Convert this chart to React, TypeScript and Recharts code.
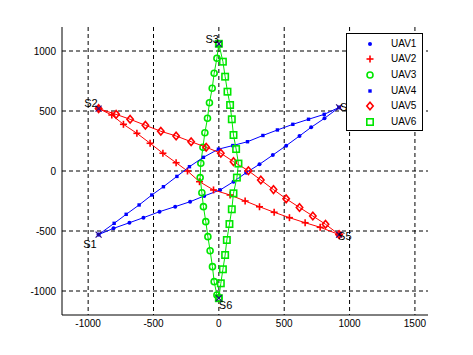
import React from 'react';
import { ScatterChart, Scatter, XAxis, YAxis, CartesianGrid } from 'recharts';

const xTicks = [-1000, -500, 0, 500, 1000, 1500];
const yTicks = [-1000, -500, 0, 500, 1000];

const uav1 = [
  { x: -920, y: -530 }, { x: -806, y: -478 }, { x: -684, y: -431 }, { x: -577, y: -389 },
  { x: -454, y: -339 }, { x: -334, y: -297 }, { x: -220, y: -256 }, { x: -112, y: -208 },
  { x: 10, y: -158 }, { x: 112, y: -89 }, { x: 209, y: -14 }, { x: 311, y: 56 },
  { x: 413, y: 133 }, { x: 515, y: 211 }, { x: 617, y: 292 }, { x: 706, y: 364 },
  { x: 808, y: 439 }, { x: 920, y: 530 },
];
const uav2 = [
  { x: -920, y: 520 }, { x: -819, y: 467 }, { x: -730, y: 389 }, { x: -627, y: 314 },
  { x: -526, y: 231 }, { x: -428, y: 148 }, { x: -327, y: 69 }, { x: -240, y: 0 },
  { x: -148, y: -89 }, { x: -41, y: -158 }, { x: 86, y: -200 }, { x: 201, y: -250 },
  { x: 311, y: -298 }, { x: 423, y: -344 }, { x: 540, y: -389 }, { x: 660, y: -431 },
  { x: 775, y: -469 }, { x: 920, y: -530 },
];
const uav3 = [
  { x: 0, y: 1060 }, { x: -15, y: 939 }, { x: -36, y: 814 }, { x: -51, y: 689 },
  { x: -72, y: 569 }, { x: -87, y: 439 }, { x: -107, y: 319 }, { x: -122, y: 197 },
  { x: -138, y: 64 }, { x: -143, y: -55 }, { x: -130, y: -181 }, { x: -118, y: -297 },
  { x: -100, y: -422 }, { x: -84, y: -547 }, { x: -67, y: -664 }, { x: -49, y: -797 },
  { x: -36, y: -922 }, { x: -15, y: -1033 }, { x: 0, y: -1060 },
];
const uav4 = [
  { x: -920, y: -530 }, { x: -801, y: -436 }, { x: -709, y: -361 }, { x: -610, y: -283 },
  { x: -513, y: -200 }, { x: -424, y: -131 }, { x: -321, y: -45 }, { x: -225, y: 36 },
  { x: -118, y: 114 }, { x: -3, y: 182 }, { x: 107, y: 212 }, { x: 219, y: 244 },
  { x: 337, y: 296 }, { x: 448, y: 342 }, { x: 566, y: 389 }, { x: 686, y: 431 },
  { x: 806, y: 472 }, { x: 920, y: 530 },
];
const uav5 = [
  { x: -920, y: 520 }, { x: -786, y: 472 }, { x: -679, y: 431 }, { x: -562, y: 381 },
  { x: -444, y: 331 }, { x: -327, y: 292 }, { x: -212, y: 244 }, { x: -97, y: 198 },
  { x: 15, y: 148 }, { x: 112, y: 78 }, { x: 226, y: 2 }, { x: 321, y: -75 },
  { x: 418, y: -155 }, { x: 515, y: -232 }, { x: 617, y: -304 }, { x: 719, y: -375 },
  { x: 816, y: -444 }, { x: 920, y: -530 },
];
const uav6 = [
  { x: 0, y: -1060 }, { x: 15, y: -936 }, { x: 31, y: -819 }, { x: 48, y: -700 },
  { x: 61, y: -575 }, { x: 81, y: -442 }, { x: 99, y: -319 }, { x: 112, y: -186 },
  { x: 138, y: -55 }, { x: 150, y: 62 }, { x: 132, y: 183 }, { x: 112, y: 300 },
  { x: 99, y: 431 }, { x: 86, y: 550 }, { x: 66, y: 661 }, { x: 48, y: 786 },
  { x: 31, y: 911 }, { x: 0, y: 1060 },
];

const startNames = ['S1', 'S2', 'S3', 'S4', 'S5', 'S6'];
const startX = [-920, -920, 0, 920, 920, 0];
const startY = [-530, 520, 1060, 530, -530, -1060];
const startPoints = startNames.map((name, i) => ({ name, x: startX[i], y: startY[i] }));

const labelOffsets: Record<string, [number, number, 'start' | 'end']> = {
  S1: [-2, 13, 'end'],
  S2: [-1, -2, 'end'],
  S3: [0, -1, 'end'],
  S4: [1, 4, 'start'],
  S5: [-1, 5, 'start'],
  S6: [0, 11, 'start'],
};

const BLUE = '#0000ff';
const RED = '#ff0000';
const GREEN = '#00e600';

type MarkerKind = 'dot' | 'plus' | 'circle' | 'sq' | 'diamond' | 'square';

function Marker({ kind, cx, cy, color }: { kind: MarkerKind; cx: number; cy: number; color: string }) {
  switch (kind) {
    case 'dot':
      return <circle cx={cx} cy={cy} r={2} fill={color} />;
    case 'sq':
      return <rect x={cx - 1.7} y={cy - 1.7} width={3.4} height={3.4} fill={color} />;
    case 'plus':
      return (
        <g stroke={color} strokeWidth={1.6}>
          <line x1={cx - 3.5} y1={cy} x2={cx + 3.5} y2={cy} />
          <line x1={cx} y1={cy - 3.5} x2={cx} y2={cy + 3.5} />
        </g>
      );
    case 'circle':
      return <circle cx={cx} cy={cy} r={3} fill="none" stroke={color} strokeWidth={1.6} />;
    case 'diamond':
      return (
        <polygon
          points={`${cx},${cy - 3.8} ${cx + 3.2},${cy} ${cx},${cy + 3.8} ${cx - 3.2},${cy}`}
          fill="none"
          stroke={color}
          strokeWidth={1.6}
        />
      );
    case 'square':
      return <rect x={cx - 3.2} y={cy - 3.2} width={6.4} height={6.4} fill="none" stroke={color} strokeWidth={1.6} />;
    default:
      return null;
  }
}

const series = [
  { name: 'UAV1', data: uav1, color: BLUE, kind: 'dot' as MarkerKind },
  { name: 'UAV2', data: uav2, color: RED, kind: 'plus' as MarkerKind },
  { name: 'UAV3', data: uav3, color: GREEN, kind: 'circle' as MarkerKind },
  { name: 'UAV4', data: uav4, color: BLUE, kind: 'sq' as MarkerKind },
  { name: 'UAV5', data: uav5, color: RED, kind: 'diamond' as MarkerKind },
  { name: 'UAV6', data: uav6, color: GREEN, kind: 'square' as MarkerKind },
];

const FONT = '"Liberation Sans", Arial, Helvetica, sans-serif';

function LegendBox() {
  return (
    <div
      style={{
        position: 'absolute',
        left: 346,
        top: 33,
        width: 77,
        height: 98,
        border: '1px solid #000',
        background: '#fff',
        boxSizing: 'border-box',
        fontFamily: FONT,
        fontSize: 10,
        paddingTop: 2,
      }}
    >
      {series.map((s) => (
        <div key={s.name} style={{ display: 'flex', alignItems: 'center', height: 15.6 }}>
          <svg width={44} height={14} style={{ display: 'block' }}>
            <Marker kind={s.kind} cx={23} cy={7} color={s.color} />
          </svg>
          <span style={{ color: '#000', lineHeight: '14px' }}>{s.name}</span>
        </div>
      ))}
    </div>
  );
}

function StartShape(props: any) {
  const { cx, cy, payload } = props;
  const [dx, dy, anchor] = labelOffsets[payload.name];
  return (
    <g>
      <g stroke="#2a0a80" strokeWidth={1.2}>
        <line x1={cx - 3} y1={cy - 3} x2={cx + 3} y2={cy + 3} />
        <line x1={cx - 3} y1={cy + 3} x2={cx + 3} y2={cy - 3} />
      </g>
      <text x={cx + dx} y={cy + dy} textAnchor={anchor} fontSize={11} fontFamily={FONT} fill="#000">
        {payload.name}
      </text>
    </g>
  );
}

export default function App() {
  return (
    <div style={{ position: 'absolute', left: 0, top: 0, width: 473, height: 355, background: '#fff' }}>
      <ScatterChart width={473} height={355} margin={{ top: 27, right: 45, left: 12, bottom: 10 }}>
        <CartesianGrid stroke="#000" strokeDasharray="4 3" strokeWidth={1} syncWithTicks />
        <XAxis
          type="number"
          dataKey="x"
          domain={[-1200, 1600]}
          ticks={xTicks}
          allowDataOverflow
          height={30}
          tickSize={0}
          tickMargin={5}
          axisLine={{ stroke: '#000', strokeWidth: 1 }}
          tickLine={false}
          tick={{ fill: '#000', fontSize: 10, fontFamily: FONT }}
        />
        <YAxis
          type="number"
          dataKey="y"
          domain={[-1200, 1200]}
          ticks={yTicks}
          allowDataOverflow
          width={50}
          tickSize={0}
          tickMargin={6}
          axisLine={{ stroke: '#000', strokeWidth: 1 }}
          tickLine={false}
          tick={{ fill: '#000', fontSize: 10, fontFamily: FONT }}
        />
        {series.map((s) => (
          <Scatter
            key={s.name}
            name={s.name}
            data={s.data}
            line={{ stroke: s.color, strokeWidth: 1 }}
            lineType="joint"
            isAnimationActive={false}
            shape={(p: any) => <Marker kind={s.kind} cx={p.cx} cy={p.cy} color={s.color} />}
          />
        ))}
        <Scatter
          name="start"
          data={startPoints}
          isAnimationActive={false}
          shape={(p: any) => <StartShape {...p} />}
          legendType="none"
        />
      </ScatterChart>
      <LegendBox />
    </div>
  );
}
